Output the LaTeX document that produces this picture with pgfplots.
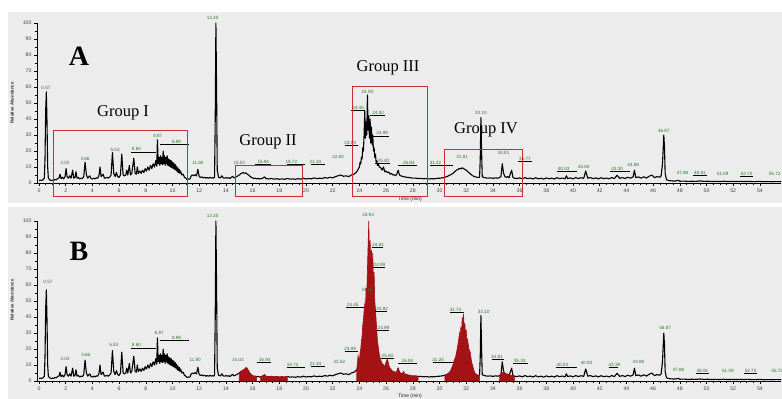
\documentclass[border=0pt]{standalone}
\usepackage{pgfplots}
\pgfplotsset{compat=1.18}
\usepackage{pgfplotstable}
\usepackage{fontspec}
\setmainfont{Liberation Serif}
\newfontfamily\sansf{Liberation Sans}
\definecolor{bg}{RGB}{236,236,236}
\definecolor{boxred}{RGB}{200,45,50}
\definecolor{pkred}{RGB}{165,18,22}
\definecolor{lblgreen}{RGB}{40,120,40}
\definecolor{tickgray}{RGB}{70,70,70}

% chromatogram trace (time in min, relative abundance in %)
\pgfplotstableread{
t y
0.0 1.5
0.1 1.8
0.2 1.6
0.3 2.0
0.4 3.0
0.45 15
0.5 45
0.55 57
0.6 38
0.65 10
0.7 3.0
0.8 2.0
0.9 1.5
1.0 1.8
1.1 1.6
1.2 2.2
1.3 2.0
1.4 2.8
1.5 3.2
1.57 5.5
1.65 2.8
1.75 3.6
1.85 2.6
1.95 4.0
2.03 9.0
2.1 4.0
2.2 3.0
2.3 4.5
2.4 3.0
2.52 8.0
2.6 3.0
2.7 3.5
2.77 7.0
2.85 3.0
2.95 3.5
3.05 2.5
3.15 3.0
3.25 2.8
3.35 4.0
3.45 13
3.55 5.0
3.65 3.0
3.8 4.5
3.9 2.8
4.0 2.5
4.1 3.0
4.2 2.6
4.3 3.2
4.4 3.0
4.5 5.0
4.57 10
4.65 4.0
4.8 5.5
4.9 3.0
5.0 3.2
5.1 3.5
5.2 3.0
5.3 3.8
5.4 5.0
5.5 19
5.6 6.0
5.7 4.0
5.8 6.5
5.9 4.0
6.0 3.5
6.1 5.0
6.2 18
6.3 5.0
6.4 4.5
6.5 5.0
6.57 8.0
6.65 5.0
6.77 11
6.85 5.0
6.95 6.0
7.1 15.5
7.2 6.0
7.3 5.5
7.36 10
7.45 6.0
7.55 7.5
7.65 6.0
7.75 8.0
7.85 6.5
7.95 9.0
8.05 7.5
8.15 10
8.25 8.0
8.35 11
8.45 9.0
8.55 12
8.65 10
8.75 14
8.82 10.5
8.87 27
8.93 12
9.0 16
9.05 11
9.1 17
9.15 12
9.2 16
9.25 11.5
9.3 20
9.35 12
9.4 17
9.45 11
9.5 16
9.55 12
9.6 17
9.65 11
9.7 15
9.75 10.5
9.8 14.5
9.85 10
9.9 14
9.95 9.5
10.0 13
10.05 9.0
10.1 12.5
10.15 8.5
10.2 11.5
10.25 8.0
10.3 10.5
10.35 7.0
10.4 9.5
10.45 6.5
10.5 8.5
10.55 6.0
10.6 7.5
10.7 5.0
10.8 5.5
10.9 3.5
11.0 3.0
11.1 2.2
11.2 2.5
11.3 2.4
11.4 4.5
11.5 5.0
11.6 4.6
11.7 5.2
11.8 4.5
11.9 8.5
12.0 4.0
12.1 3.5
12.2 3.8
12.3 3.2
12.4 3.6
12.5 3.0
12.6 3.4
12.7 3.0
12.8 3.5
12.9 3.1
13.0 3.3
13.1 3.0
13.15 4.0
13.2 40
13.25 100
13.3 60
13.35 8.0
13.45 3.5
13.6 3.2
13.7 4.5
13.8 3.2
13.9 3.0
14.0 3.4
14.1 3.0
14.2 3.3
14.3 2.8
14.4 3.5
14.5 4.2
14.6 3.2
14.7 3.6
14.8 4.0
14.9 4.5
15.0 5.0
15.1 5.8
15.2 6.2
15.3 6.5
15.4 6.0
15.5 6.3
15.6 5.5
15.7 5.0
15.8 4.2
15.9 3.5
16.0 3.2
16.1 2.8
16.2 3.0
16.3 2.6
16.4 2.9
16.5 2.5
16.7 2.8
16.9 3.8
17.0 2.8
17.2 2.5
17.4 2.8
17.6 2.4
17.8 2.7
18.0 2.3
18.2 2.6
18.4 2.3
18.6 2.8
18.8 2.4
19.0 2.6
19.2 2.3
19.4 2.7
19.6 2.4
19.8 3.0
20.0 2.5
20.2 2.8
20.4 2.6
20.6 3.2
20.8 2.7
21.0 3.0
21.2 2.8
21.4 3.4
21.6 3.0
21.8 3.6
22.0 3.2
22.2 4.0
22.4 4.5
22.6 5.0
22.8 4.2
23.0 4.5
23.2 4.0
23.4 5.0
23.6 5.5
23.8 7.0
23.9 8.5
24.0 10
24.05 13
24.1 12
24.15 16
24.2 15
24.25 22
24.3 20
24.35 30
24.4 45
24.45 28
24.5 38
24.55 30
24.6 55
24.65 33
24.7 42
24.75 28
24.8 40
24.85 25
24.9 35
24.95 24
25.0 30
25.05 20
25.1 22
25.15 16
25.2 18
25.25 13
25.3 14
25.35 11
25.4 12
25.5 10
25.6 9.5
25.7 8.0
25.8 10
25.9 7.0
26.0 7.5
26.1 6.5
26.2 6.8
26.3 5.5
26.4 6.0
26.5 5.0
26.6 5.2
26.7 4.5
26.8 5.5
26.9 8.0
27.0 5.0
27.1 4.5
27.2 4.2
27.3 4.0
27.4 3.8
27.6 3.5
27.8 3.3
28.0 3.0
28.2 3.1
28.4 2.8
28.6 2.9
28.8 2.6
29.0 2.8
29.2 2.5
29.4 2.7
29.6 2.6
29.8 2.9
30.0 3.0
30.2 3.2
30.4 3.6
30.6 4.2
30.8 5.0
31.0 6.0
31.1 6.8
31.2 7.5
31.3 8.2
31.4 8.5
31.5 9.2
31.6 8.8
31.7 9.5
31.8 9.0
31.9 8.5
32.0 8.0
32.1 7.2
32.2 6.5
32.3 5.8
32.4 5.0
32.5 4.5
32.6 4.0
32.7 3.8
32.8 3.6
32.9 3.5
33.0 3.6
33.05 15
33.1 41
33.15 20
33.2 4.0
33.3 3.5
33.4 3.3
33.6 3.0
33.8 3.2
34.0 2.9
34.2 3.2
34.4 3.0
34.6 4.0
34.7 12
34.8 6.0
34.9 4.0
35.0 3.5
35.1 4.0
35.2 3.2
35.4 8.0
35.5 3.5
35.6 3.0
35.8 2.8
36.0 3.2
36.2 2.6
36.4 3.4
36.6 2.7
36.8 3.1
37.0 2.5
37.2 3.3
37.4 2.6
37.6 3.0
37.8 2.4
38.0 3.2
38.2 2.6
38.4 3.0
38.6 2.5
38.8 3.3
39.0 2.7
39.2 3.1
39.4 2.6
39.5 4.5
39.6 2.8
39.8 3.2
40.0 2.6
40.2 3.4
40.4 2.8
40.6 3.3
40.8 2.9
40.95 7.5
41.1 3.0
41.3 3.4
41.5 2.7
41.7 3.2
41.9 2.6
42.1 3.3
42.3 2.7
42.5 3.1
42.7 2.6
42.9 3.4
43.1 2.8
43.3 4.8
43.5 2.9
43.7 3.4
43.9 2.8
44.1 3.6
44.3 3.0
44.5 3.8
44.6 8.0
44.7 3.4
44.9 3.8
45.1 3.0
45.3 3.9
45.5 3.1
45.7 4.2
45.9 5.0
46.1 3.4
46.3 4.0
46.5 3.6
46.6 4.5
46.7 12
46.8 30
46.85 22
46.9 6.0
47.0 2.0
47.2 1.5
47.4 1.3
47.6 1.2
47.9 1.6
48.0 1.1
48.3 1.2
48.6 1.0
48.9 1.1
49.2 1.0
49.5 1.3
49.8 1.0
50.1 1.1
50.4 0.9
50.7 1.0
51.0 0.9
51.3 1.1
51.6 0.9
51.9 1.0
52.2 0.9
52.5 1.0
52.8 0.9
53.1 1.0
53.4 0.9
53.7 0.9
54.0 1.0
54.3 0.8
54.6 0.9
54.9 0.8
55.2 0.9
55.6 0.8
}\traceA

% highlighted (red) regions of panel B
\pgfplotstableread{
t y
15.0 5.0
15.1 5.8
15.2 6.4
15.3 7.0
15.4 7.5
15.5 8.5
15.6 8.0
15.7 6.5
15.8 5.0
15.9 4.0
16.0 3.5
16.1 3.0
16.2 3.0
16.3 2.6
}\redA

\pgfplotstableread{
t y
16.6 2.7
16.7 3.0
16.9 4.0
17.0 3.0
17.2 2.7
17.4 3.0
17.6 2.6
17.8 2.9
18.0 2.5
18.2 2.8
18.4 2.5
18.6 2.9
}\redB

\pgfplotstableread{
t y
23.8 7.0
23.9 16
24.0 12
24.05 18
24.1 20
24.15 25
24.2 28
24.25 35
24.3 38
24.35 44
24.4 48
24.45 45
24.5 58
24.55 54
24.6 70
24.65 85
24.7 100
24.75 80
24.8 88
24.85 75
24.9 82
24.95 70
25.0 80
25.05 62
25.1 68
25.15 50
25.2 45
25.25 38
25.3 32
25.35 25
25.4 22
25.5 16
25.6 13
25.7 11
25.8 10
25.9 9.0
26.0 12
26.1 14
26.2 10
26.3 8.0
26.4 7.0
26.5 6.0
26.6 6.0
26.7 5.0
26.8 6.0
26.9 8.0
27.0 5.5
27.1 5.0
27.2 4.5
27.3 6.0
27.4 4.5
27.6 4.0
27.8 3.5
28.0 3.2
28.2 3.2
28.4 2.8
}\redC

\pgfplotstableread{
t y
30.4 3.6
30.6 4.5
30.8 6.0
31.0 10
31.1 13
31.2 15
31.3 19
31.4 24
31.5 30
31.55 27
31.6 34
31.65 30
31.7 40
31.75 35
31.8 42
31.85 33
31.9 36
31.95 28
32.0 32
32.05 24
32.1 26
32.2 20
32.3 18
32.4 12
32.5 9.0
32.6 6.0
32.7 4.5
32.8 4.0
32.9 3.6
33.0 3.6
}\redD

\pgfplotstableread{
t y
34.5 3.0
34.6 4.5
34.7 5.0
34.8 6.0
34.9 5.0
35.0 4.5
35.1 4.5
35.2 4.0
35.4 3.5
35.6 3.0
}\redE

\tikzset{lbl/.style={font=\sansf\fontsize{4.6}{5}\selectfont, text=lblgreen, inner sep=0.5pt}}
\pgfplotsset{
  chrom/.style={
    scale only axis, width=744.3pt, height=160pt,
    xmin=-0.15, xmax=55.6, ymin=0, ymax=100,
    axis x line=bottom, axis y line=left,
    axis line style={-, line width=0.6pt},
    clip=false,
    xtick={0,2,...,54}, minor x tick num=3,
    ytick={0,10,...,100}, minor y tick num=1,
    tick align=outside, major tick length=3pt, minor tick length=1.8pt,
    tick style={line width=0.5pt, black},
    /pgf/number format/assume math mode=true,
    every tick label/.append style={font=\sansf\fontsize{5.2}{6}\selectfont, text=tickgray},
    xticklabel style={yshift=1pt},
    yticklabel style={xshift=1pt},
  },
}
\newcommand\pk[3]{\node[lbl] at (axis cs:#1,#2) {#3};}

\begin{document}
\begin{tikzpicture}
\useasboundingbox (0pt,0pt) rectangle (782pt,399pt);
\fill[white] (0pt,0pt) rectangle (782pt,399pt);
\fill[bg] (8pt,196pt) rectangle (782pt,387pt);
\fill[bg] (8pt,0pt) rectangle (782pt,192pt);

% ---------------- Panel A ----------------
\begin{axis}[chrom, at={(37pt,216pt)}, anchor=south west]
\addplot[black, line width=1.1pt, line join=round] table[x=t,y=y] {\traceA};
\pk{0.52}{59.4}{0.57}
\pk{1.95}{12.5}{2.03}
\pk{3.45}{15}{3.66}
\pk{5.7}{20.6}{5.53}
\pk{7.3}{21}{8.60}
\draw[line width=0.4pt] (axis cs:6.9,19.2) -- (axis cs:8.75,19.2);
\pk{8.9}{29.4}{8.87}
\pk{10.3}{25.6}{8.99}
\draw[line width=0.4pt] (axis cs:9.05,24) -- (axis cs:11.2,24);
\pk{11.9}{12.5}{11.90}
\pk{13.0}{103}{13.30}
\pk{15.0}{12.5}{15.03}
\pk{16.8}{13}{16.94}
\draw[line width=0.4pt] (axis cs:16.2,11.5) -- (axis cs:17.4,11.5);
\pk{18.9}{13}{19.72}
\draw[line width=0.4pt] (axis cs:18.6,11.5) -- (axis cs:19.9,11.5);
\pk{20.7}{13}{21.34}
\draw[line width=0.4pt] (axis cs:20.4,11.5) -- (axis cs:21.4,11.5);
\pk{22.4}{16}{22.82}
\pk{23.3}{25}{23.99}
\draw[line width=0.4pt] (axis cs:22.9,23.5) -- (axis cs:23.9,23.5);
\pk{23.9}{47}{24.45}
\draw[line width=0.4pt] (axis cs:23.4,45.5) -- (axis cs:24.4,45.5);
\pk{24.6}{57}{24.93}
\pk{25.4}{44}{24.82}
\draw[line width=0.4pt] (axis cs:24.8,42.5) -- (axis cs:25.9,42.5);
\pk{25.7}{31}{24.99}
\draw[line width=0.4pt] (axis cs:24.95,29.5) -- (axis cs:26.2,29.5);
\pk{25.8}{14}{25.40}
\draw[line width=0.4pt] (axis cs:25.2,12.5) -- (axis cs:26.3,12.5);
\pk{27.7}{12.5}{26.84}
\draw[line width=0.4pt] (axis cs:26.9,11) -- (axis cs:28.3,11);
\pk{29.7}{12.5}{31.22}
\draw[line width=0.4pt] (axis cs:29.3,11) -- (axis cs:31.0,11);
\pk{31.7}{16}{31.81}
\pk{33.1}{43.5}{33.10}
\pk{34.8}{19}{34.81}
\pk{36.4}{15}{35.77}
\draw[line width=0.4pt] (axis cs:35.9,13.5) -- (axis cs:36.9,13.5);
\pk{39.3}{9}{40.03}
\draw[line width=0.4pt] (axis cs:38.8,7.5) -- (axis cs:40.3,7.5);
\pk{40.8}{10}{40.83}
\pk{43.3}{9}{43.30}
\draw[line width=0.4pt] (axis cs:42.8,7.5) -- (axis cs:44.3,7.5);
\pk{44.5}{11}{44.88}
\pk{46.8}{32.5}{46.87}
\pk{48.2}{6}{47.88}
\pk{49.5}{6}{48.91}
\draw[line width=0.4pt] (axis cs:49.0,4.6) -- (axis cs:50.0,4.6);
\pk{51.2}{5.5}{51.09}
\pk{53.0}{5.5}{52.70}
\draw[line width=0.4pt] (axis cs:52.5,4.2) -- (axis cs:53.5,4.2);
\pk{55.1}{5.5}{55.72}
\end{axis}

% ---------------- Panel B ----------------
\begin{axis}[chrom, at={(37pt,18pt)}, anchor=south west]
\addplot[black, line width=1.1pt, line join=round] table[x=t,y=y] {\traceA};
\addplot[fill=pkred, draw=pkred, line width=0.6pt] table[x=t,y=y] {\redA} \closedcycle;
\addplot[fill=pkred, draw=pkred, line width=0.6pt] table[x=t,y=y] {\redB} \closedcycle;
\addplot[fill=pkred, draw=pkred, line width=0.6pt] table[x=t,y=y] {\redC} \closedcycle;
\addplot[fill=pkred, draw=pkred, line width=0.6pt] table[x=t,y=y] {\redD} \closedcycle;
\addplot[fill=pkred, draw=pkred, line width=0.6pt] table[x=t,y=y] {\redE} \closedcycle;
\pk{0.67}{62}{0.57}
\pk{1.95}{14}{2.03}
\pk{3.5}{16}{3.66}
\pk{5.6}{22.5}{5.53}
\pk{7.3}{22.5}{8.60}
\draw[line width=0.4pt] (axis cs:6.9,20.8) -- (axis cs:8.75,20.8);
\pk{9.0}{30}{8.87}
\pk{10.3}{27}{8.99}
\draw[line width=0.4pt] (axis cs:9.05,25.5) -- (axis cs:11.2,25.5);
\pk{11.7}{13}{11.90}
\pk{13.0}{103}{13.30}
\pk{14.9}{13}{15.03}
\pk{16.9}{13}{16.94}
\draw[line width=0.4pt] (axis cs:16.3,11.5) -- (axis cs:17.4,11.5);
\pk{19.0}{10}{19.72}
\draw[line width=0.4pt] (axis cs:18.6,8.5) -- (axis cs:19.9,8.5);
\pk{20.7}{10.6}{21.34}
\draw[line width=0.4pt] (axis cs:20.4,9) -- (axis cs:21.4,9);
\pk{22.5}{12}{22.62}
\pk{23.3}{20}{23.99}
\draw[line width=0.4pt] (axis cs:22.9,18.5) -- (axis cs:23.9,18.5);
\pk{24.65}{104}{24.93}
\pk{25.4}{85}{24.81}
\draw[line width=0.4pt] (axis cs:24.95,83.5) -- (axis cs:25.8,83.5);
\pk{25.5}{72.5}{24.99}
\draw[line width=0.4pt] (axis cs:25.05,71) -- (axis cs:25.9,71);
\pk{24.6}{57}{24.60}
\pk{23.5}{47.5}{24.45}
\draw[line width=0.4pt] (axis cs:23.0,46) -- (axis cs:24.35,46);
\pk{25.7}{45}{24.82}
\draw[line width=0.4pt] (axis cs:25.2,43.5) -- (axis cs:26.1,43.5);
\pk{25.8}{33}{24.99}
\draw[line width=0.4pt] (axis cs:25.3,31.5) -- (axis cs:26.2,31.5);
\pk{26.1}{15.6}{25.40}
\draw[line width=0.4pt] (axis cs:25.6,14) -- (axis cs:26.6,14);
\pk{27.6}{12.5}{26.84}
\draw[line width=0.4pt] (axis cs:26.9,11) -- (axis cs:28.3,11);
\pk{29.9}{13}{31.25}
\draw[line width=0.4pt] (axis cs:29.5,11.5) -- (axis cs:31.0,11.5);
\pk{31.2}{44.5}{31.73}
\draw[line width=0.4pt] (axis cs:30.8,43) -- (axis cs:31.8,43);
\pk{33.3}{43}{33.10}
\pk{34.3}{15}{34.81}
\draw[line width=0.4pt] (axis cs:33.9,13.5) -- (axis cs:34.8,13.5);
\pk{36.0}{12.5}{35.33}
\draw[line width=0.4pt] (axis cs:35.5,11) -- (axis cs:36.6,11);
\pk{39.2}{10}{40.03}
\draw[line width=0.4pt] (axis cs:38.7,8.5) -- (axis cs:40.3,8.5);
\pk{41.0}{11}{40.93}
\pk{43.1}{10}{43.39}
\draw[line width=0.4pt] (axis cs:42.7,8.5) -- (axis cs:43.4,8.5);
\pk{44.9}{12}{44.88}
\pk{46.9}{33}{46.87}
\pk{47.9}{7}{47.88}
\pk{49.7}{6}{48.91}
\draw[line width=0.4pt] (axis cs:49.2,4.6) -- (axis cs:50.2,4.6);
\pk{51.6}{6}{51.09}
\pk{53.3}{6}{52.70}
\draw[line width=0.4pt] (axis cs:52.8,4.6) -- (axis cs:53.8,4.6);
\pk{55.3}{6}{55.72}
\end{axis}

% ---------------- annotations ----------------
\begin{scope}[x=1pt,y=1pt]
\node[rotate=90, font=\sansf\bfseries\fontsize{4.3}{5}\selectfont, text=black!85] at (12,296) {Relative Abundance};
\node[rotate=90, font=\sansf\bfseries\fontsize{4.3}{5}\selectfont, text=black!85] at (12,99) {Relative Abundance};
\node[font=\sansf\fontsize{5}{6}\selectfont, text=black!85] at (410,200) {Time (min)};
\node[font=\sansf\fontsize{5}{6}\selectfont, text=black!85] at (410,3) {Time (min)};
\node[font=\bfseries\fontsize{28}{28}\selectfont] at (79,343) {A};
\node[font=\bfseries\fontsize{28}{28}\selectfont] at (79,148) {B};
\draw[boxred, line width=1pt] (53,268) rectangle (187,202);
\draw[boxred, line width=1pt] (235,233) rectangle (302,202);
\draw[boxred, line width=1pt] (352,312) rectangle (427,202);
\draw[boxred, line width=1pt] (444,249) rectangle (522,202);
\node[font=\fontsize{16.5}{17}\selectfont] at (123,286) {Group I};
\node[font=\fontsize{16.5}{17}\selectfont] at (268,257) {Group II};
\node[font=\fontsize{16.5}{17}\selectfont] at (388,331) {Group III};
\node[font=\fontsize{16.5}{17}\selectfont] at (486,269) {Group IV};
\end{scope}
\end{tikzpicture}
\end{document}
